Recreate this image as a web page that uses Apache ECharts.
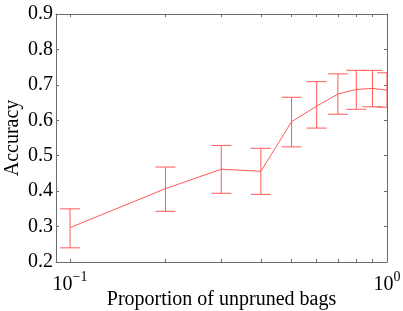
<!DOCTYPE html>
<html lang="en">
<head>
    <meta charset="UTF-8">
    <title>Accuracy vs unpruned bags</title>
    <style>
        html, body { margin: 0; padding: 0; background: #fff; }
        #chart { width: 403px; height: 311px; }
    </style>
</head>
<body>
<div id="chart"></div>
<script src="https://cdn.jsdelivr.net/npm/echarts@6/dist/echarts.min.js"></script>
<script>
    var proportions = [0.1, 0.2, 0.3, 0.4, 0.5, 0.6, 0.7, 0.8, 0.9, 1.0];
    var accuracy = [0.297, 0.407, 0.462, 0.456, 0.596, 0.640, 0.674, 0.687, 0.690, 0.685];
    var upperBound = [0.350, 0.468, 0.529, 0.521, 0.665, 0.709, 0.731, 0.741, 0.741, 0.734];
    var lowerBound = [0.240, 0.343, 0.394, 0.391, 0.525, 0.578, 0.617, 0.631, 0.638, 0.637];
    var xLabelValues = [0.1, 1];
    var xTickValues = [0.1, 0.2, 0.3, 0.4, 0.5, 0.6, 0.7, 0.8, 0.9, 1];

    var red = '#ff5a5a';
    var axisGray = '#6b6b6b';
    var serif = '"Liberation Serif", "DejaVu Serif", serif';

    var chart = echarts.init(document.getElementById('chart'));

    var lineData = proportions.map(function (p, i) {
        return [p, accuracy[i]];
    });
    var barData = proportions.map(function (p, i) {
        return [p, lowerBound[i], upperBound[i]];
    });

    function renderErrorBar(params, api) {
        var x = api.value(0);
        var lo = api.coord([x, api.value(1)]);
        var hi = api.coord([x, api.value(2)]);
        var half = 10;
        var style = { stroke: red, lineWidth: 1, fill: null };
        return {
            type: 'group',
            children: [
                { type: 'line', shape: { x1: hi[0], y1: hi[1], x2: lo[0], y2: lo[1] }, style: style },
                { type: 'line', shape: { x1: hi[0] - half, y1: hi[1], x2: hi[0] + half, y2: hi[1] }, style: style },
                { type: 'line', shape: { x1: lo[0] - half, y1: lo[1], x2: lo[0] + half, y2: lo[1] }, style: style }
            ]
        };
    }

    function xAxisBase(pos) {
        return {
            type: 'log',
            logBase: 10,
            position: pos,
            min: 0.0903,
            max: 1,
            splitLine: { show: false },
            axisLine: { show: true, onZero: false, lineStyle: { color: axisGray, width: 1 } },
            axisTick: { show: true, inside: true, length: 3, customValues: xTickValues, lineStyle: { color: axisGray } },
            minorTick: { show: false }
        };
    }

    var xBottom = xAxisBase('bottom');
    xBottom.name = 'Proportion of unpruned bags';
    xBottom.nameLocation = 'middle';
    xBottom.nameGap = 28;
    xBottom.nameMoveOverlap = false;
    xBottom.nameTextStyle = { fontFamily: serif, fontSize: 20, color: '#000' };
    xBottom.axisLabel = {
        customValues: xLabelValues,
        margin: 8,
        formatter: function (v) {
            var exp = Math.round(Math.log(v) / Math.LN10);
            return '{b|10}{s|' + (exp < 0 ? '\u2212' + (-exp) : exp) + '}';
        },
        rich: {
            b: { fontFamily: serif, fontSize: 20, color: '#000' },
            s: { fontFamily: serif, fontSize: 14, color: '#000', padding: [0, 0, 16, 0] }
        }
    };

    var xTop = xAxisBase('top');
    xTop.axisLabel = { show: false };

    function yAxisBase(pos) {
        return {
            type: 'value',
            position: pos,
            min: 0.2,
            max: 0.9,
            interval: 0.1,
            splitLine: { show: false },
            axisLine: { show: true, onZero: false, lineStyle: { color: axisGray, width: 1 } },
            axisTick: { show: true, inside: true, length: 3, lineStyle: { color: axisGray } }
        };
    }

    var yLeft = yAxisBase('left');
    yLeft.name = 'Accuracy';
    yLeft.nameLocation = 'middle';
    yLeft.nameGap = 33;
    yLeft.nameMoveOverlap = false;
    yLeft.nameTextStyle = { fontFamily: serif, fontSize: 20, color: '#000' };
    yLeft.axisLabel = {
        margin: 3,
        fontFamily: serif,
        fontSize: 20,
        color: '#000',
        formatter: function (v) { return v.toFixed(1); }
    };

    var yRight = yAxisBase('right');
    yRight.axisLabel = { show: false };

    var option = {
        animation: false,
        backgroundColor: '#fff',
        grid: {
            left: 56,
            right: 16,
            top: 14,
            bottom: 49,
            containLabel: false,
            outerBoundsMode: 'none'
        },
        xAxis: [xBottom, xTop],
        yAxis: [yLeft, yRight],
        series: [
            {
                type: 'line',
                data: lineData,
                showSymbol: false,
                symbol: 'none',
                clip: true,
                lineStyle: { color: red, width: 1 }
            },
            {
                type: 'custom',
                data: barData,
                encode: { x: 0, y: [1, 2] },
                clip: true,
                renderItem: renderErrorBar
            }
        ]
    };

    chart.setOption(option);
</script>
</body>
</html>
